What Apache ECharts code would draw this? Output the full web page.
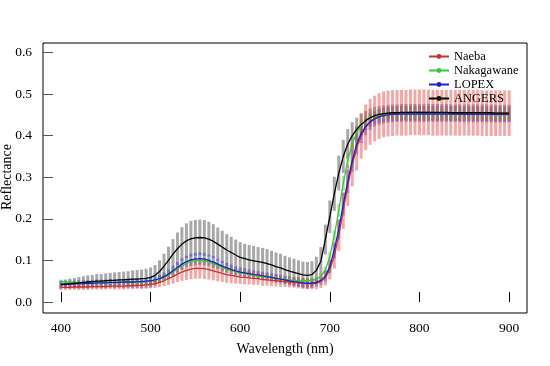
<!DOCTYPE html>
<html>
<head>
<meta charset="utf-8">
<script src="https://cdn.jsdelivr.net/npm/echarts@6/dist/echarts.min.js"></script>
<style>html,body{margin:0;padding:0;background:#fff}#c{width:550px;height:366px}</style>
</head>
<body>
<div id="c"></div>
<script>
// Wavelength grid (nm), 400..900 step 5
const wavelengths = [];
for (let w = 400; w <= 900; w += 5) wavelengths.push(w);

const xTicks = [400, 500, 600, 700, 800, 900];
const yTicks = [0.0, 0.1, 0.2, 0.3, 0.4, 0.5, 0.6];
const seriesNames = ['Naeba', 'Nakagawane', 'LOPEX', 'ANGERS'];

// Mean reflectance
const naebaMean = [
  0.035,0.035,0.035,0.036,0.036,0.036,0.036,0.037,0.037,0.037,
  0.037,0.038,0.038,0.038,0.038,0.039,0.039,0.040,0.040,0.041,
  0.042,0.044,0.047,0.051,0.056,0.061,0.067,0.072,0.076,0.079,
  0.081,0.081,0.080,0.078,0.075,0.072,0.069,0.066,0.064,0.062,
  0.060,0.059,0.058,0.057,0.056,0.054,0.053,0.052,0.051,0.050,
  0.049,0.048,0.047,0.046,0.045,0.044,0.044,0.045,0.049,0.058,
  0.078,0.110,0.160,0.220,0.280,0.330,0.370,0.400,0.420,0.433,
  0.441,0.447,0.451,0.453,0.454,0.455,0.455,0.455,0.456,0.456,
  0.456,0.456,0.456,0.455,0.455,0.455,0.455,0.455,0.455,0.455,
  0.455,0.455,0.455,0.455,0.454,0.454,0.454,0.454,0.454,0.454,
  0.454];
const naebaSd = [
  0.006,0.006,0.006,0.006,0.007,0.007,0.007,0.007,0.007,0.007,
  0.007,0.007,0.008,0.008,0.008,0.008,0.008,0.008,0.009,0.009,
  0.009,0.010,0.011,0.013,0.015,0.017,0.019,0.021,0.023,0.024,
  0.025,0.025,0.025,0.024,0.023,0.022,0.021,0.020,0.019,0.018,
  0.017,0.017,0.016,0.016,0.015,0.015,0.014,0.014,0.014,0.013,
  0.013,0.013,0.013,0.013,0.013,0.013,0.013,0.014,0.015,0.018,
  0.024,0.030,0.037,0.044,0.049,0.052,0.054,0.055,0.055,0.055,
  0.055,0.055,0.055,0.055,0.055,0.055,0.055,0.055,0.055,0.055,
  0.055,0.055,0.055,0.055,0.055,0.055,0.055,0.055,0.055,0.055,
  0.055,0.055,0.055,0.055,0.055,0.055,0.055,0.055,0.055,0.055,
  0.055];

const nakaMean = [
  0.049,0.048,0.047,0.047,0.046,0.046,0.046,0.046,0.046,0.046,
  0.046,0.046,0.046,0.047,0.047,0.047,0.047,0.048,0.048,0.049,
  0.050,0.052,0.055,0.059,0.065,0.072,0.080,0.087,0.093,0.097,
  0.099,0.100,0.099,0.096,0.092,0.088,0.083,0.079,0.076,0.073,
  0.070,0.068,0.066,0.064,0.062,0.061,0.059,0.058,0.057,0.055,
  0.054,0.053,0.052,0.051,0.051,0.051,0.052,0.055,0.062,0.077,
  0.110,0.160,0.220,0.285,0.340,0.380,0.408,0.425,0.436,0.443,
  0.447,0.449,0.450,0.451,0.451,0.451,0.451,0.452,0.452,0.452,
  0.452,0.452,0.452,0.452,0.452,0.452,0.451,0.451,0.451,0.451,
  0.451,0.451,0.451,0.451,0.451,0.451,0.450,0.450,0.450,0.450,
  0.450];
const nakaSd = [
  0.005,0.005,0.005,0.005,0.005,0.005,0.005,0.005,0.005,0.005,
  0.005,0.005,0.005,0.005,0.005,0.005,0.005,0.005,0.005,0.005,
  0.005,0.006,0.006,0.007,0.007,0.008,0.008,0.009,0.009,0.009,
  0.009,0.009,0.009,0.009,0.008,0.008,0.008,0.007,0.007,0.007,
  0.007,0.007,0.006,0.006,0.006,0.006,0.006,0.006,0.006,0.006,
  0.006,0.006,0.006,0.006,0.006,0.006,0.006,0.006,0.007,0.008,
  0.010,0.013,0.016,0.018,0.018,0.017,0.015,0.014,0.013,0.013,
  0.012,0.012,0.012,0.012,0.012,0.012,0.012,0.012,0.012,0.012,
  0.012,0.012,0.012,0.012,0.012,0.012,0.012,0.012,0.012,0.012,
  0.012,0.012,0.012,0.012,0.012,0.012,0.012,0.012,0.012,0.012,
  0.012];

const lopexMean = [
  0.042,0.042,0.043,0.043,0.044,0.044,0.045,0.045,0.046,0.046,
  0.046,0.047,0.047,0.047,0.048,0.048,0.048,0.049,0.049,0.050,
  0.051,0.053,0.056,0.061,0.067,0.075,0.083,0.091,0.097,0.101,
  0.103,0.104,0.103,0.100,0.096,0.091,0.086,0.082,0.078,0.075,
  0.072,0.070,0.068,0.066,0.065,0.063,0.061,0.059,0.057,0.055,
  0.053,0.051,0.049,0.048,0.046,0.045,0.045,0.047,0.052,0.062,
  0.085,0.125,0.175,0.235,0.290,0.340,0.380,0.405,0.422,0.433,
  0.440,0.445,0.448,0.450,0.451,0.452,0.452,0.452,0.452,0.452,
  0.452,0.452,0.452,0.452,0.452,0.452,0.452,0.452,0.452,0.452,
  0.451,0.451,0.451,0.451,0.451,0.451,0.451,0.451,0.451,0.451,
  0.451];
const lopexSd = [
  0.008,0.008,0.008,0.008,0.008,0.008,0.008,0.008,0.008,0.008,
  0.008,0.008,0.008,0.008,0.008,0.008,0.008,0.008,0.008,0.008,
  0.008,0.009,0.009,0.010,0.011,0.012,0.013,0.014,0.014,0.015,
  0.015,0.015,0.015,0.014,0.014,0.013,0.013,0.012,0.012,0.011,
  0.011,0.011,0.010,0.010,0.010,0.010,0.010,0.010,0.010,0.010,
  0.010,0.010,0.010,0.010,0.010,0.010,0.010,0.010,0.011,0.013,
  0.016,0.020,0.024,0.027,0.028,0.027,0.025,0.023,0.021,0.020,
  0.019,0.019,0.019,0.019,0.019,0.019,0.019,0.019,0.019,0.019,
  0.019,0.019,0.019,0.019,0.019,0.019,0.019,0.019,0.019,0.019,
  0.019,0.019,0.019,0.019,0.019,0.019,0.019,0.019,0.019,0.019,
  0.019];

const angersMean = [
  0.042,0.043,0.044,0.045,0.046,0.047,0.048,0.049,0.050,0.050,
  0.051,0.052,0.052,0.053,0.053,0.054,0.055,0.055,0.056,0.057,
  0.059,0.064,0.073,0.086,0.100,0.115,0.128,0.139,0.147,0.152,
  0.154,0.155,0.154,0.151,0.146,0.139,0.132,0.125,0.119,0.113,
  0.107,0.104,0.101,0.099,0.097,0.095,0.092,0.089,0.085,0.082,
  0.078,0.074,0.071,0.068,0.065,0.064,0.066,0.076,0.098,0.150,
  0.205,0.260,0.310,0.350,0.380,0.400,0.415,0.427,0.436,0.443,
  0.448,0.451,0.453,0.454,0.455,0.455,0.456,0.456,0.456,0.456,
  0.456,0.456,0.456,0.456,0.456,0.456,0.456,0.455,0.455,0.455,
  0.455,0.455,0.455,0.455,0.455,0.455,0.455,0.454,0.454,0.454,
  0.454];
const angersSd = [
  0.010,0.011,0.012,0.013,0.014,0.015,0.016,0.016,0.017,0.017,
  0.018,0.018,0.019,0.019,0.020,0.020,0.021,0.022,0.022,0.023,
  0.024,0.025,0.027,0.030,0.033,0.036,0.039,0.041,0.042,0.043,
  0.043,0.043,0.043,0.042,0.041,0.040,0.039,0.038,0.038,0.037,
  0.037,0.036,0.036,0.036,0.035,0.035,0.035,0.034,0.034,0.034,
  0.033,0.033,0.033,0.032,0.032,0.032,0.032,0.033,0.034,0.036,
  0.039,0.041,0.042,0.040,0.036,0.032,0.028,0.025,0.023,0.022,
  0.021,0.020,0.020,0.020,0.020,0.020,0.020,0.020,0.020,0.020,
  0.020,0.020,0.020,0.020,0.020,0.020,0.020,0.020,0.020,0.020,
  0.020,0.020,0.020,0.020,0.020,0.020,0.020,0.020,0.020,0.020,
  0.020];

const lineColors = ['#c83232', '#33cc33', '#1f1fcc', '#000000'];
const barColors = ['rgba(232,80,80,0.5)', 'rgba(60,200,60,0.45)', 'rgba(50,50,210,0.45)', 'rgba(110,110,110,0.6)'];
const means = [naebaMean, nakaMean, lopexMean, angersMean];
const sds = [naebaSd, nakaSd, lopexSd, angersSd];

function pairs(arr) { return wavelengths.map((w, i) => [w, arr[i]]); }
function bars(m, s) { return wavelengths.map((w, i) => [w, m[i] - s[i], m[i] + s[i]]); }

const font = 'Liberation Serif';
const series = [];
// error bars: grey first, then blue, green, red
[3, 2, 1, 0].forEach(k => {
  series.push({
    type: 'custom', name: seriesNames[k] + ' sd', silent: true, clip: true, z: 1,
    data: bars(means[k], sds[k]),
    encode: { x: 0, y: [1, 2] },
    renderItem: (params, api) => {
      const x = api.value(0);
      const p1 = api.coord([x, api.value(2)]);
      const p2 = api.coord([x, api.value(1)]);
      const w = 3;
      return { type: 'rect', shape: { x: p1[0] - w / 2, y: p1[1], width: w, height: p2[1] - p1[1] },
               style: { fill: barColors[k] } };
    }
  });
});
[0, 1, 2, 3].forEach(k => {
  series.push({
    type: 'line', name: seriesNames[k], data: pairs(means[k]), z: 3,
    showSymbol: false, symbol: 'circle', symbolSize: 3,
    lineStyle: { color: lineColors[k], width: 1.3 }, itemStyle: { color: lineColors[k] },
    silent: true, animation: false
  });
});

const chart = echarts.init(document.getElementById('c'), null, { renderer: 'canvas' });
chart.setOption({
  animation: false,
  backgroundColor: '#fff',
  grid: { left: 43, right: 23, top: 43, bottom: 53, containLabel: false, outerBoundsMode: 'none',
          show: true, borderColor: '#000', borderWidth: 1, backgroundColor: 'transparent' },
  graphic: [{
    type: 'text', left: 0, top: 144, rotation: Math.PI / 2,
    style: { text: 'Reflectance', font: '14px "Liberation Serif"', fill: '#000' }
  }],
  legend: {
    data: seriesNames.map(n => ({ name: n, itemStyle: { borderWidth: 0 } })),
    orient: 'vertical', left: 428, top: 50, padding: 0,
    itemWidth: 20, itemHeight: 6, itemGap: 1,
    textStyle: { fontFamily: font, fontSize: 12.5, color: '#000', lineHeight: 9 },
    selectedMode: false
  },
  xAxis: {
    type: 'value', min: 380, max: 920,
    name: 'Wavelength (nm)', nameLocation: 'middle', nameGap: 29,
    nameTextStyle: { fontFamily: font, fontSize: 14, color: '#000' },
    axisLine: { show: false },
    axisTick: { inside: true, length: 10, customValues: xTicks, lineStyle: { color: '#000' } },
    axisLabel: { customValues: xTicks, margin: 8, fontFamily: font, fontSize: 13.5, color: '#000' },
    splitLine: { show: false }
  },
  yAxis: {
    type: 'value', min: -0.0265, max: 0.6227,
    axisLine: { show: false },
    axisTick: { inside: true, length: 10, customValues: yTicks, lineStyle: { color: '#555' } },
    axisLabel: { customValues: yTicks, margin: 11, fontFamily: font, fontSize: 13.5, color: '#000',
                 formatter: v => v.toFixed(1) },
    splitLine: { show: false }
  },
  series: series
});
</script>
</body>
</html>
